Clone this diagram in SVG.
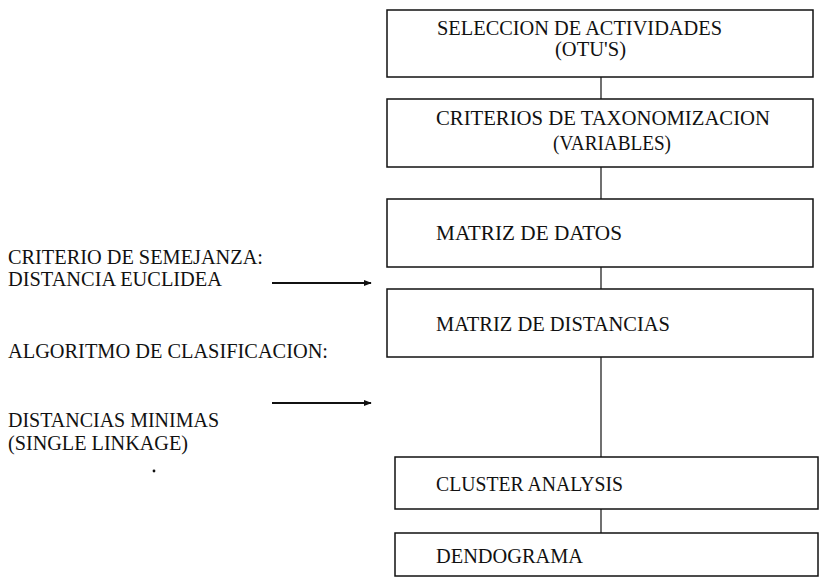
<svg xmlns="http://www.w3.org/2000/svg" width="821" height="578" viewBox="0 0 821 578">
<style>
text{font-family:"Liberation Serif","Times New Roman",serif;font-size:20px;fill:#111}
.box{fill:#fff;stroke:#111;stroke-width:1.5}
.con{stroke:#111;stroke-width:1.2;fill:none}
.arr{stroke:#111;stroke-width:2;fill:none}
</style>
<defs>
<marker id="ah" viewBox="0 0 10 10" refX="9" refY="5" markerWidth="4" markerHeight="4" orient="auto" markerUnits="strokeWidth">
<path d="M0,1 L10,5 L0,9 z" fill="#111"/>
</marker>
</defs>
<rect width="821" height="578" fill="#fff"/>
<g id="connectors">
<line class="con" x1="601" y1="77" x2="601" y2="99"/>
<line class="con" x1="601" y1="167" x2="601" y2="199"/>
<line class="con" x1="601" y1="267" x2="601" y2="289"/>
<line class="con" x1="601" y1="357" x2="601" y2="457"/>
<line class="con" x1="601" y1="509" x2="601" y2="533"/>
<line class="arr" x1="272" y1="283" x2="371" y2="283" marker-end="url(#ah)"/>
<line class="arr" x1="272" y1="403" x2="371" y2="403" marker-end="url(#ah)"/>
</g>
<g id="n1">
<rect class="box" x="387" y="10" width="426" height="67"/>
<text x="437" y="35" textLength="285" lengthAdjust="spacingAndGlyphs">SELECCION DE ACTIVIDADES</text>
<text x="555" y="56" textLength="71" lengthAdjust="spacingAndGlyphs">(OTU'S)</text>
</g>
<g id="n2">
<rect class="box" x="387" y="99" width="426" height="68"/>
<text x="436" y="125" textLength="334" lengthAdjust="spacingAndGlyphs">CRITERIOS DE TAXONOMIZACION</text>
<text x="553" y="150" textLength="118" lengthAdjust="spacingAndGlyphs">(VARIABLES)</text>
</g>
<g id="n3">
<rect class="box" x="387" y="199" width="426" height="68"/>
<text x="436" y="240" textLength="186" lengthAdjust="spacingAndGlyphs">MATRIZ DE DATOS</text>
</g>
<g id="n4">
<rect class="box" x="387" y="289" width="426" height="68"/>
<text x="436" y="331" textLength="234" lengthAdjust="spacingAndGlyphs">MATRIZ DE DISTANCIAS</text>
</g>
<g id="n5">
<rect class="box" x="395" y="457" width="423" height="52"/>
<text x="436" y="491" textLength="187" lengthAdjust="spacingAndGlyphs">CLUSTER ANALYSIS</text>
</g>
<g id="n6">
<rect class="box" x="395" y="533" width="423" height="43"/>
<text x="436" y="563" textLength="147" lengthAdjust="spacingAndGlyphs">DENDOGRAMA</text>
</g>
<g id="labels">
<text x="8" y="264" textLength="255" lengthAdjust="spacingAndGlyphs">CRITERIO DE SEMEJANZA:</text>
<text x="8" y="286" textLength="214" lengthAdjust="spacingAndGlyphs">DISTANCIA EUCLIDEA</text>
<text x="8" y="358" textLength="320" lengthAdjust="spacingAndGlyphs">ALGORITMO DE CLASIFICACION:</text>
<text x="8" y="427" textLength="211" lengthAdjust="spacingAndGlyphs">DISTANCIAS MINIMAS</text>
<text x="8" y="450" textLength="180" lengthAdjust="spacingAndGlyphs">(SINGLE LINKAGE)</text>
<circle cx="154" cy="471" r="1.4" fill="#111"/>
</g>
</svg>
